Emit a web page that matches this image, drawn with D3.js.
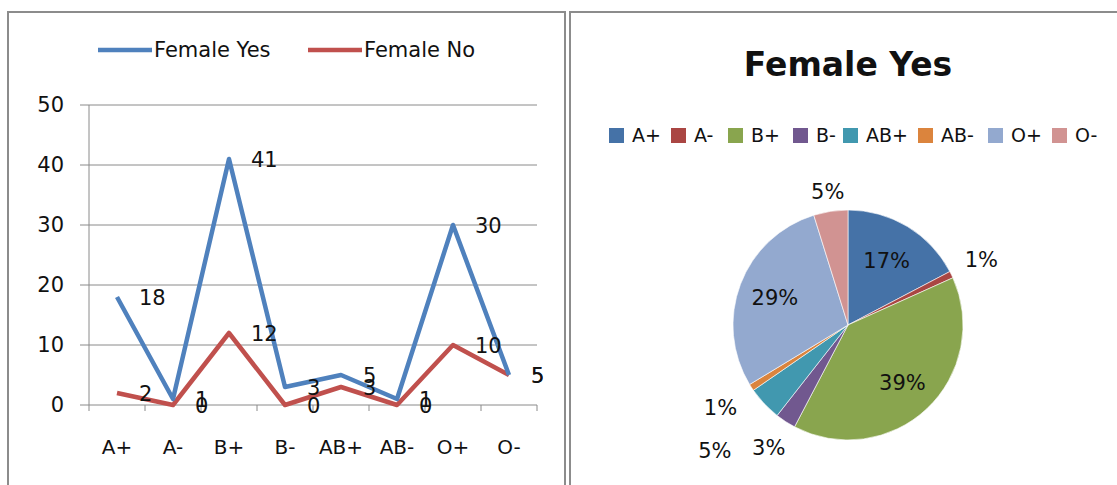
<!DOCTYPE html>
<html>
<head>
<meta charset="utf-8">
<script src="https://cdnjs.cloudflare.com/ajax/libs/d3/7.8.5/d3.min.js"></script>
<style>
  body { margin: 0; background: #fff; }
  text { font-family: "DejaVu Sans", sans-serif; fill: #111; }
</style>
</head>
<body>
<svg id="chart" width="1117" height="485"></svg>
<script>
var categories = ["A+", "A-", "B+", "B-", "AB+", "AB-", "O+", "O-"];
var femaleYes = [18, 1, 41, 3, 5, 1, 30, 5];
var femaleNo = [2, 0, 12, 0, 3, 0, 10, 5];
var yTicks = [0, 10, 20, 30, 40, 50];
var seriesNames = ["Female Yes", "Female No"];
var seriesColors = ["#4f81bd", "#c0504d"];
var pieColors = ["#4572a7", "#aa4643", "#89a54e", "#71588f", "#4198af", "#db843d", "#93a9cf", "#d19392"];

var svg = d3.select("#chart");

// panel frames
svg.append("rect")
  .attr("x", 8).attr("y", 12)
  .attr("width", 557).attr("height", 500)
  .attr("fill", "none").attr("stroke", "#8c8c8c").attr("stroke-width", 2);
svg.append("rect")
  .attr("x", 570).attr("y", 12)
  .attr("width", 600).attr("height", 500)
  .attr("fill", "none").attr("stroke", "#8c8c8c").attr("stroke-width", 2);

// ---- line chart ----
var x = d3.scaleBand().domain(categories).range([89, 537]);
var y = d3.scaleLinear().domain([0, 50]).range([405, 105]);

var line = svg.append("g");

line.selectAll(".grid")
  .data(yTicks)
  .enter()
    .append("line")
      .attr("x1", 80).attr("x2", 537)
      .attr("y1", function(d) { return y(d); })
      .attr("y2", function(d) { return y(d); })
      .attr("stroke", "#8a8a8a").attr("stroke-width", 1);

line.append("line")
  .attr("x1", 89).attr("x2", 89)
  .attr("y1", y(50)).attr("y2", y(0))
  .attr("stroke", "#8a8a8a");

line.selectAll(".xtick")
  .data(d3.range(categories.length + 1))
  .enter()
    .append("line")
      .attr("x1", function(i) { return 89 + i * x.bandwidth(); })
      .attr("x2", function(i) { return 89 + i * x.bandwidth(); })
      .attr("y1", y(0)).attr("y2", y(0) + 6)
      .attr("stroke", "#8a8a8a");

line.selectAll(".ylabel")
  .data(yTicks)
  .enter()
    .append("text")
      .attr("x", 64)
      .attr("y", function(d) { return y(d); })
      .attr("dy", "0.35em")
      .attr("text-anchor", "end")
      .attr("font-size", 21)
      .text(function(d) { return d; });

line.selectAll(".xlabel")
  .data(categories)
  .enter()
    .append("text")
      .attr("x", function(d) { return x(d) + x.bandwidth() / 2; })
      .attr("y", 447)
      .attr("dy", "0.35em")
      .attr("text-anchor", "middle")
      .attr("font-size", 20)
      .text(function(d) { return d; });

var path = d3.line()
  .x(function(d, i) { return x(categories[i]) + x.bandwidth() / 2; })
  .y(function(d) { return y(d); });

[femaleNo, femaleYes].forEach(function(series, k) {
  var color = k === 0 ? seriesColors[1] : seriesColors[0];
  line.append("path")
    .attr("d", path(series))
    .attr("fill", "none")
    .attr("stroke", color)
    .attr("stroke-width", 4.5)
    .attr("stroke-linejoin", "round");
});

[femaleYes, femaleNo].forEach(function(series) {
  line.selectAll(null)
    .data(series)
    .enter()
      .append("text")
        .attr("x", function(d, i) { return x(categories[i]) + x.bandwidth() / 2 + 22; })
        .attr("y", function(d) { return y(d) + 1; })
        .attr("dy", "0.35em")
        .attr("font-size", 21)
        .text(function(d) { return d; });
});

// legend
var legendX = [98, 308];
seriesNames.forEach(function(name, i) {
  line.append("line")
    .attr("x1", legendX[i]).attr("x2", legendX[i] + 54)
    .attr("y1", 50).attr("y2", 50)
    .attr("stroke", seriesColors[i]).attr("stroke-width", 4.5);
  line.append("text")
    .attr("x", legendX[i] + 56).attr("y", 50)
    .attr("dy", "0.35em")
    .attr("font-size", 21)
    .text(name);
});

// ---- pie chart ----
var pieG = svg.append("g");

pieG.append("text")
  .attr("x", 848).attr("y", 64)
  .attr("dy", "0.35em")
  .attr("text-anchor", "middle")
  .attr("font-size", 33)
  .attr("font-weight", "bold")
  .text("Female Yes");

var legendItemX = [609, 671, 728, 793, 843, 918, 988, 1052];
pieG.selectAll(".pleg")
  .data(categories)
  .enter()
    .append("rect")
      .attr("x", function(d, i) { return legendItemX[i]; })
      .attr("y", 128)
      .attr("width", 15).attr("height", 15)
      .attr("fill", function(d, i) { return pieColors[i]; });
pieG.selectAll(".plegt")
  .data(categories)
  .enter()
    .append("text")
      .attr("x", function(d, i) { return legendItemX[i] + 23; })
      .attr("y", 135.5)
      .attr("dy", "0.35em")
      .attr("font-size", 19)
      .text(function(d) { return d; });

var cx = 848, cy = 325, r = 115;
var total = d3.sum(femaleYes);
var arcs = d3.pie().sort(null)(femaleYes);
var arc = d3.arc().innerRadius(0).outerRadius(r);

pieG.append("g")
  .attr("transform", "translate(" + cx + "," + cy + ")")
  .selectAll("path")
  .data(arcs)
  .enter()
    .append("path")
      .attr("d", arc)
      .attr("fill", function(d, i) { return pieColors[i]; })
      .attr("stroke", "#fff")
      .attr("stroke-width", 0.6);

// how far out each label sits, as a share of the radius
var labelRadius = [0.65, 1.29, 0.69, 1.27, 1.59, 1.32, 0.68, 1.17];
pieG.selectAll(".plabel")
  .data(arcs)
  .enter()
    .append("text")
      .attr("x", function(d, i) {
        var a = (d.startAngle + d.endAngle) / 2;
        return cx + Math.sin(a) * r * labelRadius[i];
      })
      .attr("y", function(d, i) {
        var a = (d.startAngle + d.endAngle) / 2;
        return cy - Math.cos(a) * r * labelRadius[i];
      })
      .attr("dy", "0.35em")
      .attr("text-anchor", "middle")
      .attr("font-size", 21)
      .text(function(d) { return Math.round(d.value / total * 100) + "%"; });
</script>
</body>
</html>
